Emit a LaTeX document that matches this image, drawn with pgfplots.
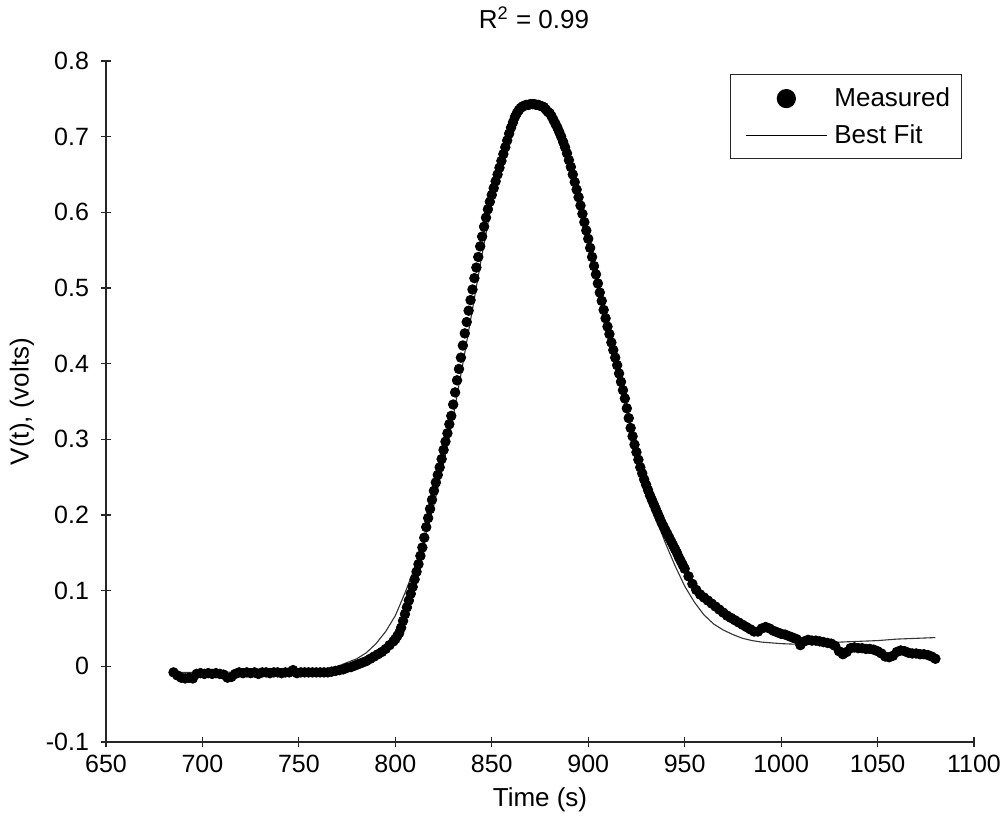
\documentclass[border=0pt]{standalone}
\usepackage{fontspec}
\setmainfont{Liberation Sans}
\usepackage{pgfplots}
\pgfplotsset{compat=1.18}
\begin{document}
\fontsize{13pt}{15pt}\selectfont
\begin{tikzpicture}
\useasboundingbox (-53pt,-37.5pt) rectangle (449pt,371pt);
\begin{axis}[
  at={(0pt,0pt)}, anchor=south west,
  scale only axis, width=434pt, height=340.5pt,
  xmin=650, xmax=1100, ymin=-0.1, ymax=0.8,
  xtick={650,700,750,800,850,900,950,1000,1050,1100},
  ytick={-0.1,0,0.1,0.2,0.3,0.4,0.5,0.6,0.7,0.8},
  axis lines=left,
  axis line style={-, line width=0.6pt, black!85},
  major tick length=5pt,
  tick style={line width=0.6pt, black!85},
  scaled ticks=false,
  /pgf/number format/1000 sep={},
  /pgf/number format/assume math mode=true,
  ticklabel style={font=\fontsize{12.5pt}{14pt}\selectfont},
  xticklabel style={anchor=base, yshift=-12.5pt},
  yticklabel style={anchor=east, xshift=-1.5pt},
  title={R\textsuperscript{2} = 0.99},
  title style={at={(axis description cs:0.5,1)}, anchor=center, yshift=15.5pt, xshift=-3pt, font=\fontsize{13pt}{15pt}\selectfont},
  xlabel={Time (s)},
  ylabel={V(t), (volts)},
  xlabel style={at={(axis description cs:0.5,0)}, anchor=center, yshift=-29pt, font=\fontsize{13pt}{15pt}\selectfont},
  ylabel style={at={([xshift=-42pt]axis description cs:0,0.5)}, anchor=center, font=\fontsize{13pt}{15pt}\selectfont},
  legend cell align=left,
  legend style={at={(axis description cs:1,1)}, anchor=north east, xshift=-6pt, yshift=-6.5pt,
    draw=black!85, line width=0.6pt, inner xsep=2.2pt, inner ysep=2.5pt,
    row sep=0pt, column sep=0pt,
    nodes={draw=none, inner xsep=3.5pt, inner ysep=0pt},
    font=\fontsize{13pt}{15pt}\selectfont},
]
\addplot[only marks, mark=*, mark size=2.4pt, black,
  legend image code/.code={\path[draw=none,fill=none] (-5.3pt,-9pt) rectangle (40.5pt,9.5pt); \fill[black] (20.25pt,0pt) circle (4.5pt);}]
  table {
t v
685 -0.008
687 -0.012
689 -0.015
691 -0.016
693 -0.015
695 -0.016
697 -0.010
699 -0.009
701 -0.010
703 -0.009
705 -0.010
707 -0.009
709 -0.010
711 -0.011
713 -0.015
715 -0.014
717 -0.010
719 -0.008
721 -0.009
723 -0.008
725 -0.009
727 -0.008
729 -0.010
731 -0.008
733 -0.008
735 -0.009
737 -0.008
739 -0.008
741 -0.009
743 -0.008
745 -0.008
747 -0.005
749 -0.009
751 -0.008
753 -0.008
755 -0.008
757 -0.008
759 -0.008
761 -0.008
763 -0.008
765 -0.008
767 -0.007
769 -0.006
771 -0.005
773 -0.004
775 -0.002
777 -0.001
779 0.001
781 0.003
783 0.005
785 0.007
787 0.010
789 0.013
791 0.016
793 0.019
795 0.023
797 0.028
799 0.033
800 0.036
801 0.040
802 0.044
803 0.051
804 0.060
805 0.069
806 0.078
807 0.087
808 0.096
809 0.105
810 0.115
811 0.125
812 0.135
813 0.146
814 0.157
815 0.170
816 0.184
817 0.196
818 0.208
819 0.220
820 0.232
821 0.243
822 0.253
823 0.263
824 0.274
825 0.286
826 0.297
827 0.308
828 0.320
829 0.331
830 0.346
831 0.362
832 0.378
833 0.393
834 0.408
835 0.424
836 0.440
837 0.455
838 0.470
839 0.484
840 0.498
841 0.513
842 0.527
843 0.541
844 0.555
845 0.568
846 0.581
847 0.593
848 0.604
849 0.614
850 0.623
851 0.632
852 0.641
853 0.650
854 0.659
855 0.668
856 0.677
857 0.686
858 0.695
859 0.704
860 0.712
861 0.719
862 0.726
863 0.731
864 0.735
865 0.738
866 0.740
867 0.741
868 0.742
869 0.742
870 0.743
871 0.743
872 0.743
873 0.742
874 0.742
875 0.741
876 0.740
877 0.739
878 0.736
879 0.733
880 0.731
881 0.727
882 0.722
883 0.717
884 0.712
885 0.706
886 0.700
887 0.693
888 0.686
889 0.678
890 0.669
891 0.660
892 0.650
893 0.640
894 0.630
895 0.620
896 0.609
897 0.598
898 0.587
899 0.576
900 0.565
901 0.553
902 0.541
903 0.529
904 0.518
905 0.506
906 0.494
907 0.483
908 0.471
909 0.460
910 0.449
911 0.439
912 0.428
913 0.418
914 0.408
915 0.398
916 0.387
917 0.376
918 0.365
919 0.354
920 0.341
921 0.328
922 0.315
923 0.304
924 0.293
925 0.283
926 0.273
927 0.263
928 0.255
929 0.247
930 0.240
931 0.233
932 0.226
933 0.220
934 0.214
935 0.208
936 0.202
937 0.196
938 0.190
939 0.185
940 0.180
941 0.175
942 0.170
943 0.165
944 0.160
945 0.155
946 0.150
947 0.144
948 0.139
949 0.134
950 0.129
952 0.119
954 0.109
956 0.101
958 0.095
960 0.091
962 0.087
964 0.083
966 0.079
968 0.075
970 0.071
972 0.067
974 0.064
976 0.061
978 0.058
980 0.055
982 0.052
984 0.049
986 0.046
988 0.046
990 0.050
992 0.052
994 0.050
996 0.047
998 0.045
1000 0.043
1002 0.042
1004 0.040
1006 0.038
1008 0.036
1010 0.028
1012 0.033
1014 0.035
1016 0.034
1018 0.034
1020 0.033
1022 0.032
1024 0.031
1026 0.030
1028 0.027
1030 0.020
1032 0.016
1034 0.019
1036 0.024
1038 0.025
1040 0.024
1042 0.024
1044 0.023
1046 0.023
1048 0.022
1050 0.020
1052 0.017
1054 0.013
1056 0.012
1058 0.014
1060 0.019
1062 0.021
1064 0.020
1066 0.018
1068 0.017
1070 0.017
1072 0.016
1074 0.016
1076 0.015
1078 0.013
1080 0.010
};
\addlegendentry{Measured}
\addplot[black!80, line width=0.55pt, no marks,
  legend image code/.code={\path[draw=none,fill=none] (-5.3pt,-9pt) rectangle (40.5pt,9.5pt); \draw[black, line width=0.55pt] (0pt,0pt) -- (40.5pt,0pt);}]
  table {
t v
685 -0.008
700 -0.008
750 -0.007
765 -0.004
770 0.000
775 0.005
780 0.010
785 0.018
790 0.030
795 0.046
800 0.067
805 0.097
810 0.130
815 0.168
820 0.213
825 0.268
830 0.330
835 0.400
840 0.472
845 0.545
850 0.612
855 0.667
860 0.708
865 0.734
870 0.743
875 0.740
880 0.728
885 0.707
890 0.672
895 0.627
900 0.571
905 0.510
910 0.449
915 0.392
920 0.336
925 0.283
930 0.236
935 0.196
940 0.163
945 0.133
950 0.106
955 0.085
960 0.068
965 0.056
970 0.048
975 0.042
980 0.037
985 0.034
990 0.032
1000 0.030
1010 0.029
1020 0.030
1030 0.032
1040 0.033
1050 0.034
1060 0.036
1070 0.037
1080 0.038
};
\addlegendentry{Best Fit}
\end{axis}
\end{tikzpicture}
\end{document}
